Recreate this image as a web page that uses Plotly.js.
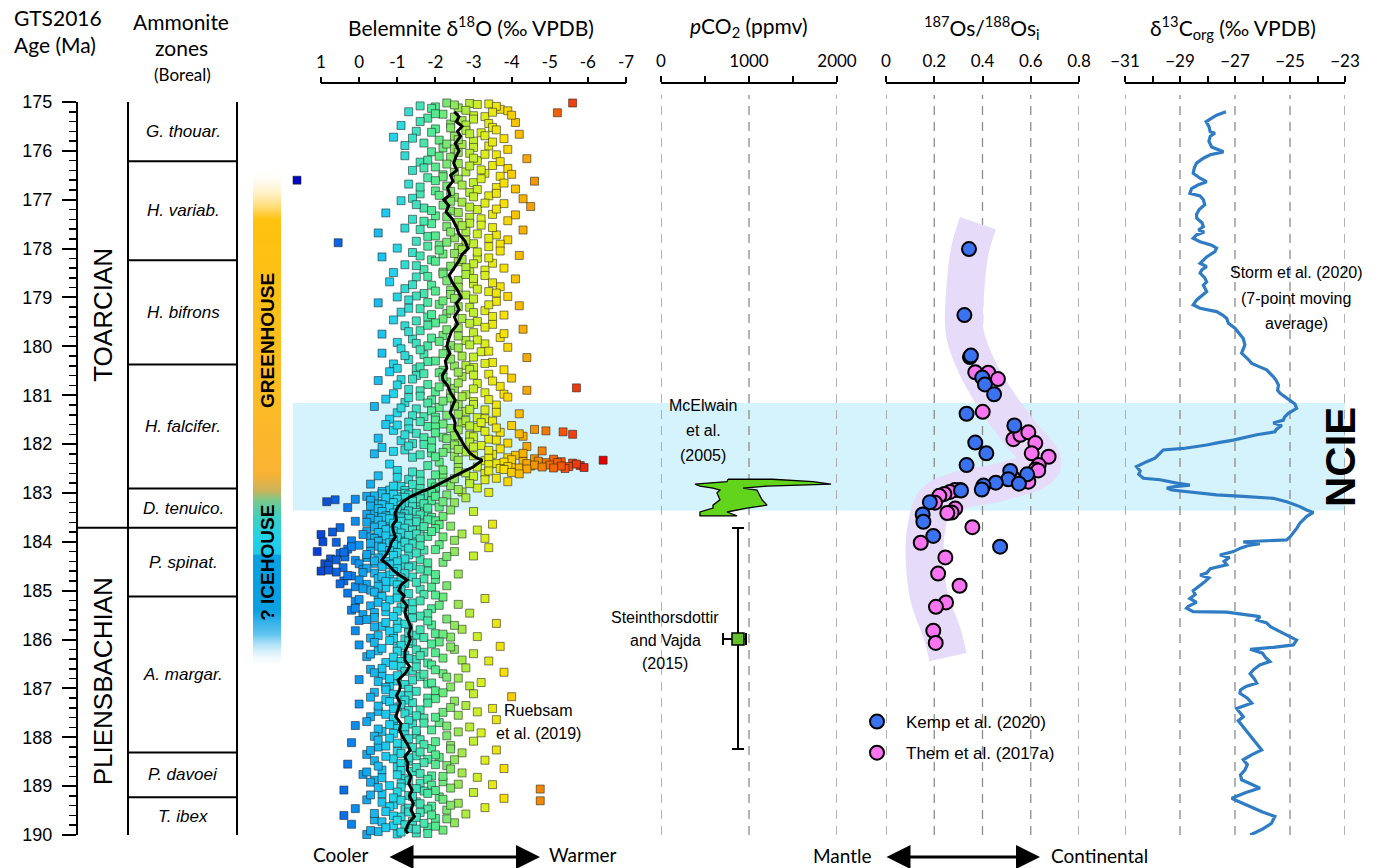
<!DOCTYPE html>
<html><head><meta charset="utf-8">
<script src="https://cdn.plot.ly/plotly-3.0.1.min.js"></script>
<style>html,body{margin:0;padding:0;background:#fff}#chart{width:1390px;height:868px}</style>
</head><body><div id="chart"></div>
<script>
// ---------------- DATA ----------------
const zoneNames = ['G. thouar.','H. variab.','H. bifrons','H. falcifer.','D. tenuico.','P. spinat.','A. margar.','P. davoei','T. ibex'];
const zoneTop   = [175,176.21,178.24,180.37,182.91,183.71,185.12,188.31,189.23];
const zoneBase  = [176.21,178.24,180.37,182.91,183.71,185.12,188.31,189.23,190];
const stageNames = ['TOARCIAN','PLIENSBACHIAN'];
const stageTop  = [175,183.71];
const stageBase = [183.71,190];
const ncieBand = [181.16,183.36];
const climateGradAge = [176.35,177.4,181.4,182.6,182.95,183.15,183.5,183.9,184.25,184.28,185.4,185.9,186.6];
const climateGradColor = ['rgba(255,255,255,0)','#FFC20E','#FDBA28','#F9B233','#CDB25A','#7CC98C','#3ECFC2','#24D2E8','#1CCBEA','#0A9FE0','#0AA0E2','#62C5F0','rgba(255,255,255,0)'];
const climateLabels = ['GREENHOUSE','? ICEHOUSE'];
const climateLabelAge = [179.89,184.43];

// Belemnite d18O (age Ma, d18O permil)
const belemnite = [
[175.02,-2.3],[175.03,-2.9],[175.05,-3.1],[175.04,-3.4],[175.02,-5.6],[175.08,-1.6],[175.1,-2.0],[175.12,-2.6],[175.15,-3.7],[175.18,-3.9],[175.2,-1.3],[175.22,-5.2],[175.25,-2.2],[175.28,-3.0],[175.3,-3.3],[175.33,-1.8],[175.38,-2.7],[175.42,-4.1],[175.45,-2.4],[175.48,-1.1],
[175.06,-2.5],[175.09,-3.6],[175.13,-1.9],[175.17,-2.8],[175.21,-3.5],[175.24,-2.0],[175.27,-4.0],[175.31,-2.5],[175.35,-3.0],[175.4,-1.6],[175.44,-3.4],[175.47,-2.8],
[175.52,-3.5],[175.55,-2.0],[175.58,-2.8],[175.6,-1.5],[175.63,-3.2],[175.66,-4.2],[175.7,-2.5],[175.72,-0.9],[175.75,-3.8],[175.78,-2.1],[175.8,-3.0],[175.84,-1.7],[175.87,-2.7],[175.9,-3.4],[175.94,-2.2],[175.97,-3.9],
[175.53,-2.4],[175.57,-3.6],[175.62,-1.9],[175.65,-2.9],[175.69,-3.3],[175.74,-1.4],[175.77,-2.6],[175.82,-3.5],[175.86,-2.3],[175.89,-1.2],[175.93,-3.0],[175.96,-2.5],
[176.02,-1.9],[176.05,-2.9],[176.08,-3.6],[176.1,-1.2],[176.13,-2.4],[176.16,-4.4],[176.2,-3.1],[176.23,-1.6],[176.26,-2.6],[176.3,-3.5],[176.33,-2.0],[176.36,-3.9],[176.4,-1.4],[176.43,-2.8],[176.46,-3.3],[176.49,-2.2],
[176.03,-2.6],[176.07,-3.3],[176.11,-2.1],[176.15,-3.0],[176.19,-1.8],[176.22,-3.7],[176.27,-2.3],[176.31,-2.9],[176.35,-1.7],[176.39,-3.2],[176.44,-2.5],[176.48,-4.0],
[176.52,-3.7],[176.55,-1.8],[176.6,1.63],[176.58,-2.6],[176.62,-4.6],[176.65,-3.0],[176.68,-1.3],[176.72,-2.3],[176.75,-3.6],[176.78,-4.1],[176.82,-2.0],[176.85,-2.9],[176.88,-1.6],[176.92,-3.4],[176.95,-2.5],[176.98,-4.3],
[176.53,-2.2],[176.57,-3.2],[176.61,-2.0],[176.66,-3.8],[176.7,-2.7],[176.74,-1.6],[176.79,-3.1],[176.83,-2.4],[176.87,-3.6],[176.91,-2.1],[176.94,-3.0],[176.97,-1.4],
[177.02,-1.1],[177.05,-2.7],[177.08,-3.8],[177.11,-2.2],[177.14,-4.5],[177.17,-1.7],[177.2,-3.1],[177.23,-2.4],[177.27,-0.7],[177.3,-3.5],[177.33,-2.0],[177.36,-2.9],[177.4,-1.4],[177.43,-3.9],[177.46,-2.6],[177.49,-1.9],
[177.03,-2.4],[177.07,-3.3],[177.1,-1.5],[177.15,-2.9],[177.19,-3.6],[177.22,-1.9],[177.26,-2.6],[177.31,-4.1],[177.35,-2.3],[177.39,-3.2],[177.44,-1.7],[177.48,-2.9],
[177.52,-3.2],[177.55,-2.3],[177.58,-1.2],[177.62,-4.3],[177.65,-2.8],[177.68,-0.5],[177.72,-3.6],[177.75,-1.8],[177.78,-2.5],[177.82,-3.9],[177.85,-1.5],[177.88,0.55],[177.9,-3.0],[177.93,-2.1],[177.96,-3.4],[177.99,-1.0],
[177.53,-2.7],[177.57,-3.5],[177.61,-1.6],[177.66,-2.4],[177.7,-3.1],[177.74,-2.0],[177.79,-3.4],[177.83,-2.8],[177.87,-2.3],[177.91,-3.7],[177.95,-1.8],[177.98,-2.6],
[178.02,-2.7],[178.05,-3.7],[178.08,-1.4],[178.11,-2.2],[178.14,-4.2],[178.17,-0.6],[178.2,-3.1],[178.23,-1.9],[178.27,-2.6],[178.3,-3.5],[178.33,-1.2],[178.36,-2.4],[178.4,-3.8],[178.43,-1.7],[178.46,-2.9],[178.49,-0.9],
[178.03,-2.1],[178.07,-3.1],[178.1,-2.5],[178.15,-1.6],[178.19,-3.4],[178.22,-2.7],[178.26,-2.0],[178.31,-3.0],[178.35,-1.5],[178.39,-2.8],[178.44,-3.3],[178.48,-2.2],
[178.52,-2.2],[178.55,-3.3],[178.58,-1.5],[178.62,-4.1],[178.65,-2.6],[178.68,-0.8],[178.72,-3.0],[178.75,-1.9],[178.78,-3.7],[178.82,-1.2],[178.85,-2.4],[178.88,-3.4],[178.92,-1.7],[178.95,-2.8],[178.98,-3.9],[178.99,-1.0],
[178.53,-2.8],[178.57,-1.8],[178.61,-3.0],[178.66,-2.3],[178.7,-3.5],[178.74,-1.4],[178.79,-2.6],[178.83,-3.1],[178.87,-2.0],[178.91,-3.6],[178.94,-2.4],[178.97,-1.5],
[179.02,-2.5],[179.05,-1.3],[179.08,-3.6],[179.11,-0.5],[179.14,-2.1],[179.17,-4.2],[179.2,-2.9],[179.23,-1.6],[179.27,-3.3],[179.3,-1.1],[179.33,-2.3],[179.36,-3.8],[179.4,-1.8],[179.43,-2.7],[179.46,-0.9],[179.49,-3.1],
[179.03,-3.0],[179.07,-2.2],[179.1,-1.8],[179.15,-3.4],[179.19,-2.6],[179.22,-1.3],[179.26,-2.4],[179.31,-3.0],[179.35,-1.9],[179.39,-3.5],[179.44,-2.2],[179.48,-1.5],
[179.52,-2.0],[179.55,-3.5],[179.58,-1.2],[179.62,-2.6],[179.65,-4.3],[179.68,-1.6],[179.72,-3.0],[179.75,-0.6],[179.78,-2.2],[179.82,-3.7],[179.85,-1.4],[179.88,-2.8],[179.92,-1.0],[179.95,-3.3],[179.98,-2.4],[179.99,-1.8],
[179.53,-2.9],[179.57,-1.8],[179.61,-3.3],[179.66,-2.3],[179.7,-1.3],[179.74,-3.8],[179.79,-2.6],[179.83,-1.9],[179.87,-3.1],[179.9,-2.1],[179.94,-1.5],[179.97,-2.9],
[180.02,-3.9],[180.05,-1.1],[180.08,-2.3],[180.11,-3.2],[180.14,-0.6],[180.17,-1.7],[180.2,-2.7],[180.23,-4.4],[180.27,-1.3],[180.3,-2.0],[180.33,-3.5],[180.36,-0.9],[180.4,-2.5],[180.43,-3.0],[180.46,-1.5],[180.48,-3.8],[180.49,-2.2],[180.45,-1.0],
[180.03,-2.6],[180.07,-1.6],[180.1,-3.4],[180.15,-2.2],[180.19,-1.2],[180.22,-3.0],[180.26,-2.4],[180.31,-1.8],[180.35,-3.3],[180.39,-2.8],[180.42,-1.6],[180.47,-2.9],
[180.52,-0.8],[180.54,-2.1],[180.57,-3.4],[180.6,-1.5],[180.62,-2.7],[180.65,-4.0],[180.68,-1.1],[180.7,-0.5],[180.73,-2.3],[180.76,-3.1],[180.78,-1.8],[180.82,-3.7],[180.85,-5.7],[180.86,-2.5],[180.88,-1.3],[180.9,-4.4],[180.93,-2.0],[180.95,-3.3],[180.97,-0.9],[180.99,-2.8],
[180.53,-2.6],[180.56,-1.7],[180.59,-3.0],[180.63,-2.2],[180.67,-1.4],[180.71,-3.5],[180.75,-2.6],[180.79,-1.0],[180.83,-2.1],[180.87,-3.0],[180.91,-1.6],[180.96,-2.4],[180.98,-3.8],
[181.02,-1.6],[181.04,-3.9],[181.06,-2.4],[181.08,-0.7],[181.1,-1.9],[181.13,-3.0],[181.15,-1.2],[181.18,-2.6],[181.2,-3.6],[181.23,-0.4],[181.25,-2.1],[181.28,-1.5],[181.3,-3.3],[181.33,-2.8],[181.36,-1.0],[181.38,-4.2],[181.41,-2.3],[181.44,-1.7],[181.46,-3.1],[181.49,-0.8],
[181.03,-2.7],[181.05,-1.3],[181.09,-3.4],[181.12,-2.2],[181.16,-1.8],[181.19,-3.0],[181.22,-2.5],[181.26,-1.1],[181.29,-2.9],[181.32,-1.9],[181.35,-3.6],[181.39,-2.6],[181.42,-1.4],[181.45,-2.0],[181.48,-3.3],
[181.51,-2.0],[181.53,-3.5],[181.55,-1.3],[181.57,-2.7],[181.6,-0.7],[181.62,-4.0],[181.64,-1.8],[181.66,-3.1],[181.68,-2.4],[181.7,-4.6],[181.72,-0.9],[181.73,-4.9],[181.75,-5.35],[181.76,-3.7],[181.78,-1.5],[181.8,-5.6],[181.82,-2.9],[181.84,-4.3],[181.86,-2.2],[181.88,-0.5],[181.9,-3.4],[181.93,-1.1],[181.95,-2.6],[181.98,-3.9],
[181.52,-2.8],[181.54,-1.6],[181.56,-3.2],[181.59,-2.2],[181.61,-1.0],[181.63,-2.9],[181.65,-2.0],[181.67,-3.6],[181.69,-1.3],[181.71,-2.6],[181.74,-3.3],[181.77,-2.0],[181.79,-4.2],[181.81,-1.2],[181.83,-2.5],[181.85,-3.0],[181.87,-1.7],[181.89,-2.3],[181.92,-3.6],[181.94,-1.9],[181.96,-2.9],[181.99,-1.4],
[182.01,-1.7],[182.03,-3.2],[182.05,-4.4],[182.07,-0.6],[182.09,-2.3],[182.1,-3.7],[182.12,-1.2],[182.14,-4.8],[182.16,-2.8],[182.18,-1.9],[182.2,-0.4],[182.21,-3.5],[182.23,-4.1],[182.25,-2.5],[182.27,-1.4],[182.28,-3.9],[182.3,-4.6],[182.31,-5.1],[182.33,-6.4],[182.34,-3.3],[182.35,-4.3],[182.36,-5.3],[182.37,-2.1],[182.38,-4.9],[182.39,-5.6],[182.4,-3.6],[182.41,-0.8],[182.42,-4.0],[182.43,-5.0],[182.44,-5.8],[182.45,-4.5],[182.46,-5.5],[182.47,-3.1],[182.48,-5.9],[182.49,-4.2],[182.5,-5.4],
[182.02,-2.5],[182.04,-1.3],[182.06,-3.0],[182.08,-1.9],[182.11,-2.6],[182.13,-3.4],[182.15,-0.9],[182.17,-2.2],[182.19,-4.3],[182.22,-1.6],[182.24,-3.0],[182.26,-2.0],[182.29,-3.4],[182.32,-4.0],[182.33,-2.6],[182.35,-4.7],[182.37,-3.8],[182.38,-5.2],[182.4,-4.4],[182.41,-5.7],[182.42,-3.4],[182.43,-4.6],[182.44,-1.8],[182.45,-5.3],[182.46,-3.9],[182.47,-4.8],[182.48,-2.6],[182.49,-5.1],[182.5,-3.7],
[182.52,-3.8],[182.54,-1.0],[182.56,-2.6],[182.58,-4.0],[182.6,-3.3],[182.62,-1.6],[182.65,-0.5],[182.67,-2.2],[182.7,-3.6],[182.72,-1.3],[182.75,-2.9],[182.77,-3.9],[182.8,-1.9],[182.82,-0.3],[182.85,-2.4],[182.87,-1.1],[182.9,-3.1],[182.92,-2.0],[182.94,-0.8],[182.96,-1.5],[182.98,-2.7],[182.99,-3.4],
[182.51,-4.4],[182.53,-2.2],[182.55,-3.4],[182.57,-1.4],[182.59,-2.8],[182.61,-4.2],[182.63,-2.0],[182.66,-3.0],[182.68,-1.0],[182.71,-2.5],[182.73,-3.3],[182.76,-1.6],[182.78,-2.2],[182.81,-2.9],[182.83,-1.4],[182.86,-0.9],[182.88,-2.0],[182.91,-1.6],[182.93,-2.6],[182.95,-1.2],[182.97,-0.6],[182.99,-1.9],
[183.01,-1.2],[183.02,-0.6],[183.04,-2.3],[183.05,-1.7],[183.07,-0.2],[183.08,-1.0],[183.1,-2.8],[183.11,-1.4],[183.13,0.1],[183.14,0.63],[183.15,-0.9],[183.16,-1.9],[183.18,0.85],[183.19,-1.1],[183.2,-2.5],[183.22,-0.5],[183.23,-1.3],[183.25,-0.8],[183.26,-1.6],[183.28,-1.0],[183.29,-2.1],[183.3,0.3],[183.32,-1.2],[183.33,-0.7],[183.35,-1.5],[183.36,-0.9],[183.38,-3.0],[183.39,-1.1],[183.41,-0.4],[183.42,-1.8],[183.44,-1.0],[183.45,-0.6],[183.46,-1.3],[183.48,-2.2],[183.49,-0.8],
[183.01,-1.6],[183.03,-0.9],[183.04,-1.3],[183.06,-0.4],[183.07,-2.0],[183.09,-1.2],[183.1,-0.7],[183.12,-1.6],[183.13,-1.0],[183.15,-0.3],[183.17,-1.4],[183.18,-2.2],[183.2,-0.9],[183.21,-1.2],[183.22,-1.7],[183.24,-0.6],[183.25,-1.1],[183.27,-0.3],[183.28,-1.4],[183.3,-0.8],[183.31,-1.8],[183.32,-0.5],[183.34,-1.0],[183.35,-2.4],[183.37,-1.3],[183.38,-0.6],[183.4,-1.5],[183.41,-0.9],[183.43,-1.2],[183.44,-0.2],[183.45,-1.6],[183.47,-0.7],[183.48,-1.1],[183.5,-1.9],
[183.51,-1.1],[183.52,-0.3],[183.54,-1.5],[183.55,-0.9],[183.57,-2.0],[183.58,0.1],[183.6,-1.2],[183.61,-0.7],[183.63,-1.7],[183.64,-3.5],[183.65,-1.0],[183.67,-0.4],[183.68,-2.4],[183.7,-1.3],[183.71,0.5],[183.73,-0.8],[183.74,-1.6],[183.76,-3.1],[183.77,-1.0],[183.79,-0.2],[183.8,0.7],[183.81,-1.4],[183.83,-0.6],[183.84,-2.7],[183.86,-1.1],[183.87,-0.9],[183.89,-1.8],[183.9,-0.3],[183.92,-1.3],[183.93,-3.3],[183.95,-0.7],[183.96,-1.5],[183.98,0.2],[183.99,-1.0],
[183.5,-0.6],[183.52,-1.3],[183.53,-0.8],[183.55,-1.8],[183.56,-0.5],[183.58,-1.1],[183.59,-1.5],[183.6,-0.2],[183.62,-0.9],[183.63,-1.3],[183.65,-2.1],[183.66,-0.6],[183.68,-1.0],[183.69,-1.7],[183.7,-0.4],[183.72,-1.2],[183.73,-2.0],[183.75,-0.7],[183.76,-1.4],[183.78,-0.9],[183.79,-1.9],[183.81,-0.5],[183.82,-1.1],[183.84,-1.5],[183.85,-0.1],[183.87,-1.3],[183.88,-0.7],[183.9,-2.2],[183.91,-1.0],[183.93,-0.4],[183.94,-1.6],[183.96,-0.9],[183.97,-2.5],[183.99,-0.5],
[183.85,1.0],[184.0,0.95],[184.2,1.1],[184.35,0.75],[184.45,0.9],[184.6,1.0],
[184.01,0.6],[184.02,-0.8],[184.04,-1.4],[184.06,-2.1],[184.07,0.0],[184.09,-0.5],[184.1,-1.1],[184.12,-3.4],[184.14,-0.9],[184.15,0.3],[184.17,-1.7],[184.19,-0.3],[184.2,-2.5],[184.22,-1.0],[184.24,0.5],[184.25,-0.6],[184.27,-1.3],[184.29,-3.0],[184.31,0.37],[184.32,-0.2],[184.34,-0.9],[184.36,-1.6],[184.38,0.1],[184.4,-0.7],[184.42,-2.2],[184.44,-0.4],[184.46,-1.2],[184.48,0.8],
[184.01,-1.2],[184.03,-0.3],[184.05,-0.9],[184.08,-1.6],[184.1,0.2],[184.11,-0.6],[184.13,-1.3],[184.16,-2.0],[184.18,-0.8],[184.21,0.4],[184.23,-1.5],[184.26,-0.2],[184.28,-0.9],[184.3,-2.3],[184.33,-0.5],[184.35,-1.2],[184.37,0.6],[184.39,-0.4],[184.41,-1.0],[184.43,-1.8],[184.45,0.0],[184.47,-0.8],[184.49,-1.4],
[184.51,-0.6],[184.53,0.42],[184.55,-1.0],[184.57,-0.1],[184.6,-1.8],[184.62,0.6],[184.64,-0.4],[184.66,-2.6],[184.68,-0.8],[184.7,0.2],[184.72,-1.4],[184.75,-0.5],[184.77,-2.0],[184.8,0.4],[184.82,-0.9],[184.85,-1.2],[184.87,-0.2],[184.9,-2.3],[184.92,0.1],[184.94,-0.7],[184.97,-1.6],[184.99,-0.3],
[184.52,-1.3],[184.54,-0.2],[184.56,-1.6],[184.58,0.8],[184.61,-0.9],[184.63,-0.1],[184.65,-1.2],[184.67,-2.0],[184.69,0.3],[184.71,-0.6],[184.74,-1.1],[184.76,-1.7],[184.78,0.0],[184.81,-0.7],[184.83,-1.5],[184.86,0.5],[184.88,-1.0],[184.91,-0.5],[184.93,-1.9],[184.96,-0.1],[184.98,-1.1],
[185.02,-1.0],[185.05,0.3],[185.08,-1.7],[185.1,-0.5],[185.13,-2.2],[185.16,-3.3],[185.19,-0.8],[185.22,0.1],[185.25,-1.4],[185.28,-2.6],[185.31,-0.3],[185.34,-1.1],[185.37,-1.9],[185.4,0.2],[185.43,-0.7],[185.46,-2.9],[185.48,-1.3],[185.49,-0.1],
[185.03,-0.4],[185.06,-1.3],[185.09,-2.0],[185.12,-0.6],[185.15,-1.0],[185.18,0.0],[185.21,-1.6],[185.24,-0.5],[185.27,-1.2],[185.3,-2.1],[185.33,-0.7],[185.36,0.1],[185.39,-1.4],[185.42,-1.0],[185.45,-0.4],[185.47,-1.8],
[185.52,-1.6],[185.55,-0.4],[185.58,-2.3],[185.61,0.0],[185.64,-1.0],[185.67,-3.6],[185.7,-1.9],[185.73,-0.6],[185.76,-1.3],[185.79,-2.7],[185.82,0.1],[185.85,-0.9],[185.88,-2.0],[185.91,-1.5],[185.94,-3.1],[185.97,-0.3],[185.99,-1.2],[185.95,-2.4],
[185.53,-0.9],[185.56,-1.4],[185.59,-0.2],[185.62,-1.8],[185.65,-0.7],[185.68,-1.2],[185.71,-2.5],[185.74,-0.4],[185.77,-1.0],[185.8,-1.6],[185.83,-0.8],[185.86,-1.3],[185.89,-2.2],[185.92,-0.5],[185.96,-1.7],[185.98,-0.9],
[186.02,-0.8],[186.05,-2.1],[186.08,-1.4],[186.11,0.0],[186.14,-3.7],[186.17,-1.0],[186.2,-2.5],[186.23,-0.5],[186.26,-1.7],[186.29,-3.0],[186.32,-1.2],[186.35,-0.2],[186.38,-2.2],[186.41,-1.5],[186.44,-3.4],[186.47,-0.7],
[186.03,-1.3],[186.06,-0.4],[186.09,-1.9],[186.12,-1.1],[186.15,-2.4],[186.18,-0.6],[186.21,-1.5],[186.24,-1.0],[186.27,-2.0],[186.3,-0.3],[186.33,-1.6],[186.36,-0.9],[186.39,-1.3],[186.42,-2.7],[186.45,-1.1],[186.48,-1.8],
[186.52,-1.9],[186.55,-1.1],[186.58,-2.8],[186.61,-0.3],[186.64,-1.4],[186.67,-3.8],[186.7,-2.2],[186.73,-0.6],[186.76,-1.6],[186.79,-2.6],[186.82,0.0],[186.85,-1.0],[186.88,-3.2],[186.91,-1.8],[186.94,-0.8],[186.97,-2.4],
[186.53,-0.9],[186.56,-1.5],[186.59,-0.6],[186.62,-2.0],[186.65,-1.2],[186.68,-0.4],[186.71,-1.7],[186.74,-1.0],[186.77,-2.3],[186.8,-0.8],[186.83,-1.4],[186.86,-0.5],[186.89,-1.9],[186.92,-1.2],[186.95,-2.9],[186.98,-0.7],
[187.02,-1.3],[187.05,-2.0],[187.08,-0.4],[187.11,-3.0],[187.14,-1.1],[187.17,-4.0],[187.2,-1.8],[187.23,-0.7],[187.26,-2.5],[187.29,-1.4],[187.32,0.0],[187.35,-2.8],[187.38,-1.0],[187.41,-3.5],[187.44,-1.6],[187.47,-0.5],[187.49,-2.2],
[187.03,-0.7],[187.06,-1.5],[187.09,-2.2],[187.12,-0.9],[187.15,-1.3],[187.18,-0.3],[187.21,-2.0],[187.24,-1.2],[187.27,-0.8],[187.3,-1.8],[187.33,-1.1],[187.36,-0.5],[187.39,-2.4],[187.42,-0.9],[187.45,-1.3],[187.48,-3.1],
[187.52,-1.2],[187.55,-2.6],[187.58,-0.3],[187.61,-1.7],[187.64,-3.6],[187.67,-0.9],[187.7,-2.1],[187.73,-1.4],[187.76,0.1],[187.79,-2.9],[187.82,-1.0],[187.85,-1.9],[187.88,-0.6],[187.91,-3.2],[187.94,-1.5],[187.97,-2.3],
[187.53,-0.7],[187.56,-1.5],[187.59,-2.0],[187.62,-0.9],[187.65,-1.3],[187.68,-0.2],[187.71,-1.7],[187.74,-0.8],[187.77,-2.3],[187.8,-1.2],[187.83,-0.5],[187.86,-1.5],[187.89,-2.6],[187.92,-0.9],[187.95,-1.2],[187.98,-0.4],
[188.02,-0.8],[188.05,-1.6],[188.08,-3.0],[188.11,0.2],[188.14,-1.2],[188.17,-2.4],[188.2,-0.5],[188.23,-1.9],[188.26,-3.6],[188.29,-1.0],[188.32,-2.7],[188.35,-0.2],[188.38,-1.5],[188.41,-2.1],[188.44,-0.9],[188.47,-3.3],[188.49,-1.3],[188.46,-2.5],
[188.03,-1.3],[188.06,-0.5],[188.09,-2.0],[188.12,-1.0],[188.15,-1.7],[188.18,-0.7],[188.21,-1.4],[188.24,-2.4],[188.27,-0.3],[188.3,-1.6],[188.33,-1.1],[188.36,-2.0],[188.39,-0.7],[188.42,-1.3],[188.45,-1.8],[188.48,-0.4],
[188.52,-1.7],[188.55,0.3],[188.58,-2.3],[188.61,-1.0],[188.64,-3.8],[188.67,-0.6],[188.7,-1.4],[188.73,-2.7],[188.76,-0.1],[188.79,-1.9],[188.82,-3.1],[188.85,-1.2],[188.88,-0.4],[188.91,-2.2],[188.94,-1.6],[188.97,-3.5],[188.99,-0.8],[188.96,-2.6],
[188.53,-1.1],[188.56,-2.0],[188.59,-0.5],[188.62,-1.5],[188.65,-2.4],[188.68,-1.1],[188.71,-0.2],[188.74,-1.6],[188.77,-1.0],[188.8,-2.2],[188.83,-0.6],[188.86,-1.8],[188.89,-1.3],[188.92,-0.3],[188.95,-1.1],[188.98,-1.9],
[189.02,-1.1],[189.04,-2.4],[189.06,-4.75],[189.08,0.4],[189.1,-1.7],[189.13,-3.0],[189.16,-0.6],[189.19,-1.3],[189.22,-2.1],[189.25,-3.8],[189.28,-0.2],[189.3,-4.75],[189.32,-1.5],[189.35,-2.6],[189.38,-0.9],[189.41,-1.9],[189.44,-3.3],[189.46,0.1],[189.48,-1.2],[189.49,-2.3],
[189.03,-0.5],[189.05,-1.5],[189.09,-2.0],[189.12,-1.0],[189.15,-1.8],[189.18,-0.3],[189.21,-1.4],[189.24,-0.9],[189.27,-2.2],[189.29,-1.1],[189.33,-0.6],[189.36,-1.6],[189.39,-2.4],[189.42,-0.8],[189.45,-1.3],[189.47,-1.8],
[189.52,-0.7],[189.54,-1.6],[189.57,-2.8],[189.6,0.4],[189.63,-1.1],[189.66,-2.0],[189.69,-0.4],[189.72,-1.4],[189.75,-2.5],[189.78,0.2],[189.81,-0.9],[189.84,-1.8],[189.87,-1.3],[189.9,-2.2],[189.93,-0.5],[189.96,-1.5],[189.98,-1.0],[189.99,-0.2],
[189.53,-1.3],[189.56,-0.4],[189.59,-1.9],[189.61,-0.9],[189.64,-1.5],[189.67,-2.3],[189.7,-1.0],[189.73,-0.6],[189.76,-1.7],[189.79,-1.2],[189.82,-2.0],[189.85,-0.7],[189.88,-1.5],[189.91,-0.3],[189.94,-1.1],[189.97,-1.8]
];
const belColorVal = [-6.4,-5.6,-5.0,-4.4,-3.8,-3.2,-2.6,-2.0,-1.4,-0.8,-0.2,0.4,1.0,1.7];
const belColorHex = ['#E00000','#F04010','#F07000','#F8A800','#F8E000','#D8F020','#98E850','#58E890','#38E0C8','#20D0F0','#10A8F0','#0A70E8','#0848D8','#0000C0'];

// running mean
const meanAge = [175.2,175.3,175.4,175.5,175.6,175.7,175.85,176.0,176.1,176.25,176.4,176.5,176.62,176.75,176.9,177.0,177.12,177.25,177.4,177.55,177.7,177.85,178.0,178.12,178.25,178.4,178.55,178.7,178.85,179.0,179.12,179.25,179.4,179.55,179.7,179.85,180.0,180.15,180.3,180.45,180.6,180.69,180.8,180.95,181.1,181.22,181.36,181.47,181.57,181.68,181.77,181.9,182.06,182.18,182.27,182.33,182.4,182.47,182.57,182.67,182.78,182.88,182.98,183.08,183.18,183.29,183.41,183.55,183.66,183.76,183.9,184.02,184.11,184.25,184.37,184.48,184.58,184.68,184.78,184.88,185.0,185.1,185.19,185.3,185.45,185.6,185.75,185.88,186.0,186.12,186.25,186.42,186.55,186.68,186.83,186.95,187.03,187.15,187.3,187.44,187.58,187.72,187.85,188.0,188.12,188.26,188.4,188.53,188.67,188.8,188.95,189.08,189.2,189.35,189.49,189.62,189.75,189.9,189.97];
const meanD18O = [-2.5,-2.62,-2.55,-2.7,-2.58,-2.66,-2.52,-2.62,-2.55,-2.48,-2.56,-2.4,-2.46,-2.32,-2.38,-2.22,-2.35,-2.28,-2.45,-2.55,-2.62,-2.78,-2.86,-2.7,-2.62,-2.48,-2.36,-2.45,-2.58,-2.68,-2.55,-2.62,-2.5,-2.58,-2.42,-2.35,-2.3,-2.38,-2.26,-2.3,-2.18,-2.2,-2.32,-2.4,-2.52,-2.45,-2.39,-2.48,-2.52,-2.5,-2.57,-2.66,-2.78,-2.9,-3.05,-3.23,-3.1,-2.99,-2.72,-2.46,-2.2,-1.94,-1.62,-1.34,-1.15,-1.02,-0.94,-0.98,-0.88,-0.89,-0.95,-0.84,-0.81,-0.72,-0.6,-0.78,-0.89,-1.05,-1.26,-1.1,-1.04,-1.18,-1.13,-1.25,-1.2,-1.28,-1.36,-1.3,-1.34,-1.28,-1.2,-1.2,-1.32,-1.22,-1.02,-1.08,-1.06,-0.98,-1.08,-1.02,-0.96,-1.1,-1.06,-1.15,-1.25,-1.34,-1.2,-1.28,-1.26,-1.36,-1.3,-1.39,-1.32,-1.42,-1.36,-1.45,-1.3,-1.22,-1.28];

// pCO2
const mcAge = [182.72,182.77,182.82,182.86,182.90,182.94,183.00,183.14,183.25,183.31,183.39,183.47];
const mcMin = [761,750,386,443,591,670,636,670,591,591,443,443];
const mcMax = [1261,1727,1932,1205,932,1091,1102,1148,1205,977,750,864];
const svAge = [185.99], svCO2 = [875], svAgeLo = [183.72], svAgeHi = [188.24], svCO2Lo = [705], svCO2Hi = [966];

// Os isotopes
const osBandOs  = [0.381,0.348,0.332,0.327,0.377,0.456,0.555,0.647,0.473,0.307,0.203,0.166,0.162,0.182,0.232,0.257];
const osBandAge = [177.48,178.03,178.64,179.73,180.42,181.10,181.77,182.41,182.78,182.94,183.19,183.76,184.52,185.19,185.87,186.36];
const kempOs  = [0.344,0.325,0.348,0.352,0.399,0.41,0.448,0.334,0.532,0.37,0.416,0.334,0.515,0.585,0.507,0.551,0.455,0.404,0.397,0.311,0.182,0.152,0.155,0.196,0.473];
const kempAge = [178.01,179.36,180.22,180.19,180.64,180.78,180.98,181.38,181.62,181.97,182.19,182.43,182.55,182.62,182.72,182.81,182.79,182.85,182.93,182.95,183.19,183.44,183.59,183.88,184.10];
const themOs  = [0.37,0.424,0.464,0.401,0.528,0.557,0.59,0.619,0.604,0.674,0.633,0.62,0.631,0.59,0.528,0.307,0.286,0.265,0.242,0.221,0.203,0.287,0.272,0.254,0.358,0.144,0.246,0.216,0.305,0.249,0.207,0.196,0.206];
const themAge = [180.53,180.54,180.67,181.34,181.90,181.81,181.76,181.98,182.19,182.26,182.43,182.52,182.54,182.77,182.70,182.94,182.94,182.98,183.02,183.06,183.20,183.32,183.40,183.41,183.70,184.02,184.32,184.65,184.90,185.24,185.33,185.82,186.07];

// d13C org (Storm et al. 2020)
const c13Age = [175.2,175.27,175.4,175.5,175.61,175.64,175.7,175.8,175.92,176.02,176.08,176.15,176.25,176.35,176.46,176.56,176.63,176.7,176.77,176.87,176.92,177.0,177.1,177.2,177.3,177.38,177.47,177.55,177.62,177.66,177.72,177.79,177.86,177.93,177.99,178.06,178.17,178.3,178.37,178.43,178.5,178.6,178.68,178.75,178.88,179.05,179.15,179.22,179.29,179.36,179.43,179.53,179.63,179.72,179.84,179.97,180.06,180.14,180.25,180.35,180.42,180.48,180.62,180.7,180.79,180.9,180.96,181.06,181.18,181.27,181.37,181.45,181.51,181.57,181.62,181.7,181.75,181.81,181.86,181.92,181.97,182.02,182.09,182.12,182.2,182.29,182.36,182.46,182.55,182.62,182.7,182.73,182.8,182.84,182.87,182.9,182.94,182.97,183.04,183.07,183.11,183.18,183.28,183.35,183.4,183.48,183.55,183.62,183.72,183.82,183.9,183.96,184.0,184.04,184.08,184.13,184.2,184.27,184.32,184.4,184.47,184.55,184.64,184.68,184.74,184.82,184.9,185.0,185.08,185.16,185.24,185.32,185.36,185.43,185.44,185.5,185.53,185.6,185.66,185.74,185.8,185.88,185.95,186.01,186.11,186.16,186.2,186.28,186.36,186.45,186.52,186.58,186.62,186.7,186.8,186.89,186.96,187.03,187.1,187.2,187.3,187.41,187.5,187.58,187.66,187.75,187.88,188.0,188.12,188.26,188.36,188.46,188.56,188.67,188.77,188.87,188.96,189.04,189.13,189.25,189.32,189.45,189.53,189.62,189.76,189.88,190.0];
const c13Val = [-27.33,-27.67,-28.05,-27.95,-27.9,-27.73,-27.9,-27.95,-27.85,-27.42,-27.9,-28.15,-28.4,-28.48,-28.52,-28.27,-28.03,-28.35,-28.58,-28.64,-28.27,-28.15,-28.1,-28.3,-28.4,-28.39,-28.2,-28.15,-28.33,-28.12,-28.4,-28.52,-28.27,-27.85,-27.67,-27.73,-28.03,-28.27,-28.03,-28.2,-28.27,-28.1,-28.03,-28.15,-28.03,-28.39,-28.52,-28.27,-27.67,-27.45,-27.3,-27.24,-27.0,-26.88,-26.7,-26.64,-26.7,-26.76,-26.55,-26.39,-26.1,-25.85,-25.61,-25.5,-25.42,-25.45,-25.36,-25.12,-24.82,-24.76,-25.06,-25.2,-25.24,-25.61,-25.3,-25.5,-25.55,-26.21,-26.6,-27.06,-27.6,-28.03,-28.88,-29.61,-29.75,-29.91,-30.21,-30.58,-30.45,-30.5,-30.33,-29.73,-29.12,-28.64,-29.2,-29.48,-29.3,-28.8,-27.67,-26.7,-25.61,-25.12,-24.64,-24.4,-24.15,-24.39,-24.5,-24.64,-24.75,-24.88,-25.0,-25.12,-26.7,-26.1,-26.55,-26.8,-27.06,-27.55,-27.2,-27.4,-27.3,-27.9,-28.03,-28.27,-27.95,-28.1,-28.3,-28.52,-28.45,-28.64,-28.4,-28.7,-28.76,-28.52,-27.3,-26.4,-26.09,-26.2,-25.85,-25.7,-25.48,-25.2,-24.95,-24.76,-24.88,-25.6,-26.45,-26.0,-25.9,-25.73,-26.1,-26.25,-26.33,-26.45,-26.3,-26.21,-26.6,-26.8,-26.82,-26.55,-26.39,-26.94,-26.8,-26.7,-26.88,-26.75,-26.58,-26.4,-26.21,-26.03,-26.4,-26.7,-26.55,-26.64,-26.8,-26.76,-26.4,-26.09,-26.6,-27.12,-26.85,-26.33,-26.0,-25.55,-25.67,-26.0,-26.45];

// ticks / grids
const d18Ticks = [1,0,-1,-2,-3,-4,-5,-6,-7];
const d18TickText = ['1','0','-1','-2','-3','-4','-5','-6','-7'];
const co2Grid = [0,1000,2000];
const osGrid = [0,0.2,0.4,0.6,0.8];
const c13Grid = [-31,-29,-27,-25,-23];

// ---------------- LAYOUT HELPERS ----------------
const W = 1390, H = 868;
const PX = p => p / W, PY = p => 1 - p / H;
const ARIAL = 'Liberation Sans, Arial, sans-serif';
const MYRIAD = 'Lato, Liberation Sans, sans-serif';

const belAge = belemnite.map(p => p[0]);
const belVal = belemnite.map(p => p[1]);
const cmin = belColorVal[0], cmax = belColorVal[belColorVal.length - 1];
const belScale = belColorVal.map((v, i) => [(v - cmin) / (cmax - cmin), belColorHex[i]]);

const gMin = climateGradAge[0], gMax = climateGradAge[climateGradAge.length - 1];
const gradScale = climateGradAge.map((a, i) => [(a - gMin) / (gMax - gMin), climateGradColor[i]]);

// belemnite axis: visible scale from 1 (321px) to -7 (626px); domain extended left to show outliers
const belPxPerUnit = (626 - 321) / 8;
const belLeftVal = 1 + (321 - 285) / belPxPerUnit;

const traces = [];
traces.push({type:'scatter', xaxis:'x5', yaxis:'y', x:[0,1,1,0,0], y:[gMin,gMin,gMax,gMax,gMin],
  mode:'lines', line:{width:0, color:'rgba(0,0,0,0)'}, fill:'toself',
  fillgradient:{type:'vertical', start:gMin, stop:gMax, colorscale:gradScale},
  showlegend:false, hoverinfo:'skip'});
traces.push({type:'scatter', mode:'markers', xaxis:'x', yaxis:'y', x:belVal, y:belAge, cliponaxis:false,
  marker:{symbol:'square', size:8, color:belVal, cmin:cmin, cmax:cmax, colorscale:belScale,
  line:{width:1, color:'rgba(30,30,30,0.55)'}}, showlegend:false, hoverinfo:'skip'});
traces.push({type:'scatter', mode:'lines', xaxis:'x', yaxis:'y', x:meanD18O, y:meanAge,
  line:{color:'#000', width:3}, showlegend:false, hoverinfo:'skip'});
traces.push({type:'scatter', mode:'lines', xaxis:'x2', yaxis:'y',
  x: mcMin.concat(mcMax.slice().reverse(), [mcMin[0]]),
  y: mcAge.concat(mcAge.slice().reverse(), [mcAge[0]]),
  fill:'toself', fillcolor:'#62D41C', line:{color:'#000', width:1.3}, showlegend:false, hoverinfo:'skip'});
traces.push({type:'scatter', mode:'markers', xaxis:'x2', yaxis:'y', x:svCO2, y:svAge,
  marker:{symbol:'square', size:12, color:'#63C12A', line:{color:'#000', width:1.5}},
  error_y:{type:'data', symmetric:false, array:svAgeHi.map((v,i)=>v-svAge[i]), arrayminus:svAge.map((v,i)=>v-svAgeLo[i]), color:'#000', thickness:2, width:6},
  error_x:{type:'data', symmetric:false, array:svCO2Hi.map((v,i)=>v-svCO2[i]), arrayminus:svCO2.map((v,i)=>v-svCO2Lo[i]), color:'#000', thickness:2, width:6},
  showlegend:false, hoverinfo:'skip'});
traces.push({type:'scatter', mode:'lines', xaxis:'x3', yaxis:'y', x:osBandOs, y:osBandAge,
  line:{color:'#E6DCFA', width:38, shape:'spline'}, showlegend:false, hoverinfo:'skip'});
traces.push({type:'scatter', mode:'markers', xaxis:'x3', yaxis:'y', x:themOs, y:themAge, name:'Them et al. (2017a)', legendgroup:'b', legendrank:2,
  marker:{symbol:'circle', size:14, color:'#F874F0', line:{color:'#000', width:2}}, hoverinfo:'skip'});
traces.push({type:'scatter', mode:'markers', xaxis:'x3', yaxis:'y', x:kempOs, y:kempAge, name:'Kemp et al. (2020)', legendgroup:'a', legendrank:1,
  marker:{symbol:'circle', size:14, color:'#3A72F2', line:{color:'#000', width:2}}, hoverinfo:'skip'});
traces.push({type:'scatter', mode:'lines', xaxis:'x4', yaxis:'y', x:c13Val, y:c13Age,
  line:{color:'#2F7CC4', width:3.2}, showlegend:false, hoverinfo:'skip'});

// shapes
const shapes = [];
shapes.push({type:'rect', xref:'paper', yref:'y', x0:PX(293), x1:PX(1345), y0:ncieBand[0], y1:ncieBand[1], fillcolor:'#D5F3FC', line:{width:0}, layer:'below'});
const gridLine = {color:'#8c8c8c', width:1.3, dash:'9px,7px'};
[['x2',co2Grid],['x3',osGrid],['x4',c13Grid]].forEach(([ax, vals]) => vals.forEach(v =>
  shapes.push({type:'line', xref:ax, yref:'paper', x0:v, x1:v, y0:PY(835), y1:PY(95), line:gridLine, layer:'below'})));
const lineK = {color:'#000', width:2};
shapes.push({type:'line', xref:'x', yref:'paper', x0:d18Ticks[0], x1:d18Ticks[d18Ticks.length-1], y0:PY(83), y1:PY(83), line:lineK});
shapes.push({type:'line', xref:'paper', yref:'y', x0:PX(128), x1:PX(128), y0:zoneTop[0], y1:zoneBase[zoneBase.length-1], line:lineK});
shapes.push({type:'line', xref:'paper', yref:'y', x0:PX(237), x1:PX(237), y0:zoneTop[0], y1:zoneBase[zoneBase.length-1], line:lineK});
zoneBase.slice(0,-1).forEach(b => shapes.push({type:'line', xref:'paper', yref:'y', x0:PX(128), x1:PX(237), y0:b, y1:b, line:lineK}));
stageBase.slice(0,-1).forEach(b => shapes.push({type:'line', xref:'paper', yref:'y', x0:PX(77), x1:PX(128), y0:b, y1:b, line:lineK}));

// annotations
const ann = [];
const txt = (text, xpx, ypx, size, fam, extra) => Object.assign({text, xref:'paper', yref:'paper', x:PX(xpx), y:PY(ypx), xanchor:'center', yanchor:'middle', showarrow:false, font:{size, family:fam, color:'#000'}}, extra||{});
const lines = (arr, xpx, y0, dy, size, fam) => arr.forEach((t,i) => ann.push(txt(t, xpx, y0 + i*dy, size, fam)));

ann.push(txt('GTS2016', 12, 18, 21, MYRIAD, {xanchor:'left'}));
ann.push(txt('Age (Ma)', 12, 45, 21, MYRIAD, {xanchor:'left'}));
ann.push(txt('Ammonite', 181, 22, 21, MYRIAD));
ann.push(txt('zones', 181, 47, 21, MYRIAD));
ann.push(txt('(Boreal)', 182, 75, 17, MYRIAD));
ann.push(txt('Belemnite δ<sup>18</sup>O (‰ VPDB)', 471, 26, 21, MYRIAD));
ann.push(txt('<i>p</i>CO<sub>2</sub> (ppmv)', 749, 27, 21, MYRIAD));
ann.push(txt('<sup>187</sup>Os/<sup>188</sup>Os<sub>i</sub>', 982, 28, 21, MYRIAD));
ann.push(txt('δ<sup>13</sup>C<sub>org</sub> (‰ VPDB)', 1233, 28, 21, MYRIAD));

zoneNames.forEach((z,i) => ann.push({text:'<i>'+z+'</i>', xref:'paper', yref:'y', x:PX(183), y:(zoneTop[i]+zoneBase[i])/2, showarrow:false, xanchor:'center', yanchor:'middle', font:{size:17, family:ARIAL, color:'#000'}}));
stageNames.forEach((s,i) => ann.push({text:s, xref:'paper', yref:'y', x:PX(103), y:(stageTop[i]+stageBase[i])/2, textangle:-90, showarrow:false, xanchor:'center', yanchor:'middle', font:{size:26, family:ARIAL, color:'#000'}}));
climateLabels.forEach((s,i) => ann.push({text:'<b>'+s+'</b>', xref:'paper', yref:'y', x:PX(268), y:climateLabelAge[i], textangle:-90, showarrow:false, xanchor:'center', yanchor:'middle', font:{size:19, family:ARIAL, color:'#000'}}));

lines(['McElwain','et al.','(2005)'], 703, 405, 25, 16, ARIAL);
lines(['Steinthorsdottir','and Vajda','(2015)'], 665, 617, 23, 16, ARIAL);
lines(['Ruebsam','et al. (2019)'], 538, 710, 23, 16, ARIAL);
lines(['Storm et al. (2020)','(7-point moving','average)'], 1296, 273, 25, 16, ARIAL);
ann.push(txt('<b>NCIE</b>', 1340, 457, 42, ARIAL, {textangle:-90}));

ann.push(txt('Cooler', 341, 854, 19, MYRIAD));
ann.push(txt('Warmer', 583, 854, 19, MYRIAD));
ann.push(txt('Mantle', 842, 855, 19, MYRIAD));
ann.push(txt('Continental', 1099, 855, 19, MYRIAD));
const dblArrow = (x0, x1, ypx) => ({text:'', xref:'paper', yref:'paper', x:PX(x1), y:PY(ypx), ax:-(x1-x0), ay:0,
  showarrow:true, arrowside:'end+start', arrowhead:2, startarrowhead:2, arrowwidth:3, arrowsize:1.6, startarrowsize:1.6, arrowcolor:'#000', standoff:0, startstandoff:0});
ann.push(dblArrow(388, 540, 857));
ann.push(dblArrow(885, 1040, 857));

const tickFont = {size:17, family:MYRIAD, color:'#000'};
const topAxis = (dom, extra) => Object.assign({domain:[PX(dom[0]), PX(dom[1])], anchor:'free', position:PY(83), side:'top',
  showline:true, linecolor:'#000', linewidth:2, ticks:'outside', ticklen:6, tickwidth:2, tickcolor:'#000',
  tickfont:tickFont, ticklabelstandoff:2, zeroline:false, showgrid:false, fixedrange:true}, extra);

const layout = {
  width:W, height:H, margin:{l:0,r:0,t:0,b:0}, paper_bgcolor:'#fff', plot_bgcolor:'rgba(0,0,0,0)',
  font:{family:ARIAL, color:'#000'},
  showlegend:true,
  legend:{x:PX(848), xanchor:'left', y:PY(704), yanchor:'top', itemwidth:48, font:{size:17, family:ARIAL, color:'#000'}, bgcolor:'rgba(0,0,0,0)', tracegroupgap:6, traceorder:'grouped'},
  yaxis:{domain:[PY(835), PY(102)], range:[190,175], anchor:'free', position:PX(77), side:'left',
    showline:true, linecolor:'#000', linewidth:2, ticks:'outside', ticklen:14, tickwidth:2, tickcolor:'#000',
    dtick:1, tick0:175, tickfont:{size:18, family:ARIAL, color:'#000'}, ticklabelstandoff:6,
    minor:{dtick:0.2, ticks:'outside', ticklen:7, tickwidth:1.5, tickcolor:'#000'},
    showgrid:false, zeroline:false, fixedrange:true},
  xaxis: topAxis([285,626], {range:[belLeftVal,-7], tickvals:d18Ticks, ticktext:d18TickText, showline:false}),
  xaxis2: topAxis([661,837], {range:[0,2000], tickvals:[0,1000,2000], minor:{dtick:500, ticks:'outside', ticklen:6, tickwidth:2, tickcolor:'#000', showgrid:false}}),
  xaxis3: topAxis([886,1079], {range:[0,0.8], dtick:0.2}),
  xaxis4: topAxis([1125,1345], {range:[-31,-23], tickvals:c13Grid, minor:{dtick:1, tick0:-31, ticks:'outside', ticklen:6, tickwidth:2, tickcolor:'#000', showgrid:false}}),
  xaxis5: {domain:[PX(253), PX(281)], range:[0,1], anchor:'y', visible:false, fixedrange:true},
  shapes, annotations:ann
};

Plotly.newPlot('chart', traces, layout, {staticPlot:true, displayModeBar:false});
</script></body></html>
